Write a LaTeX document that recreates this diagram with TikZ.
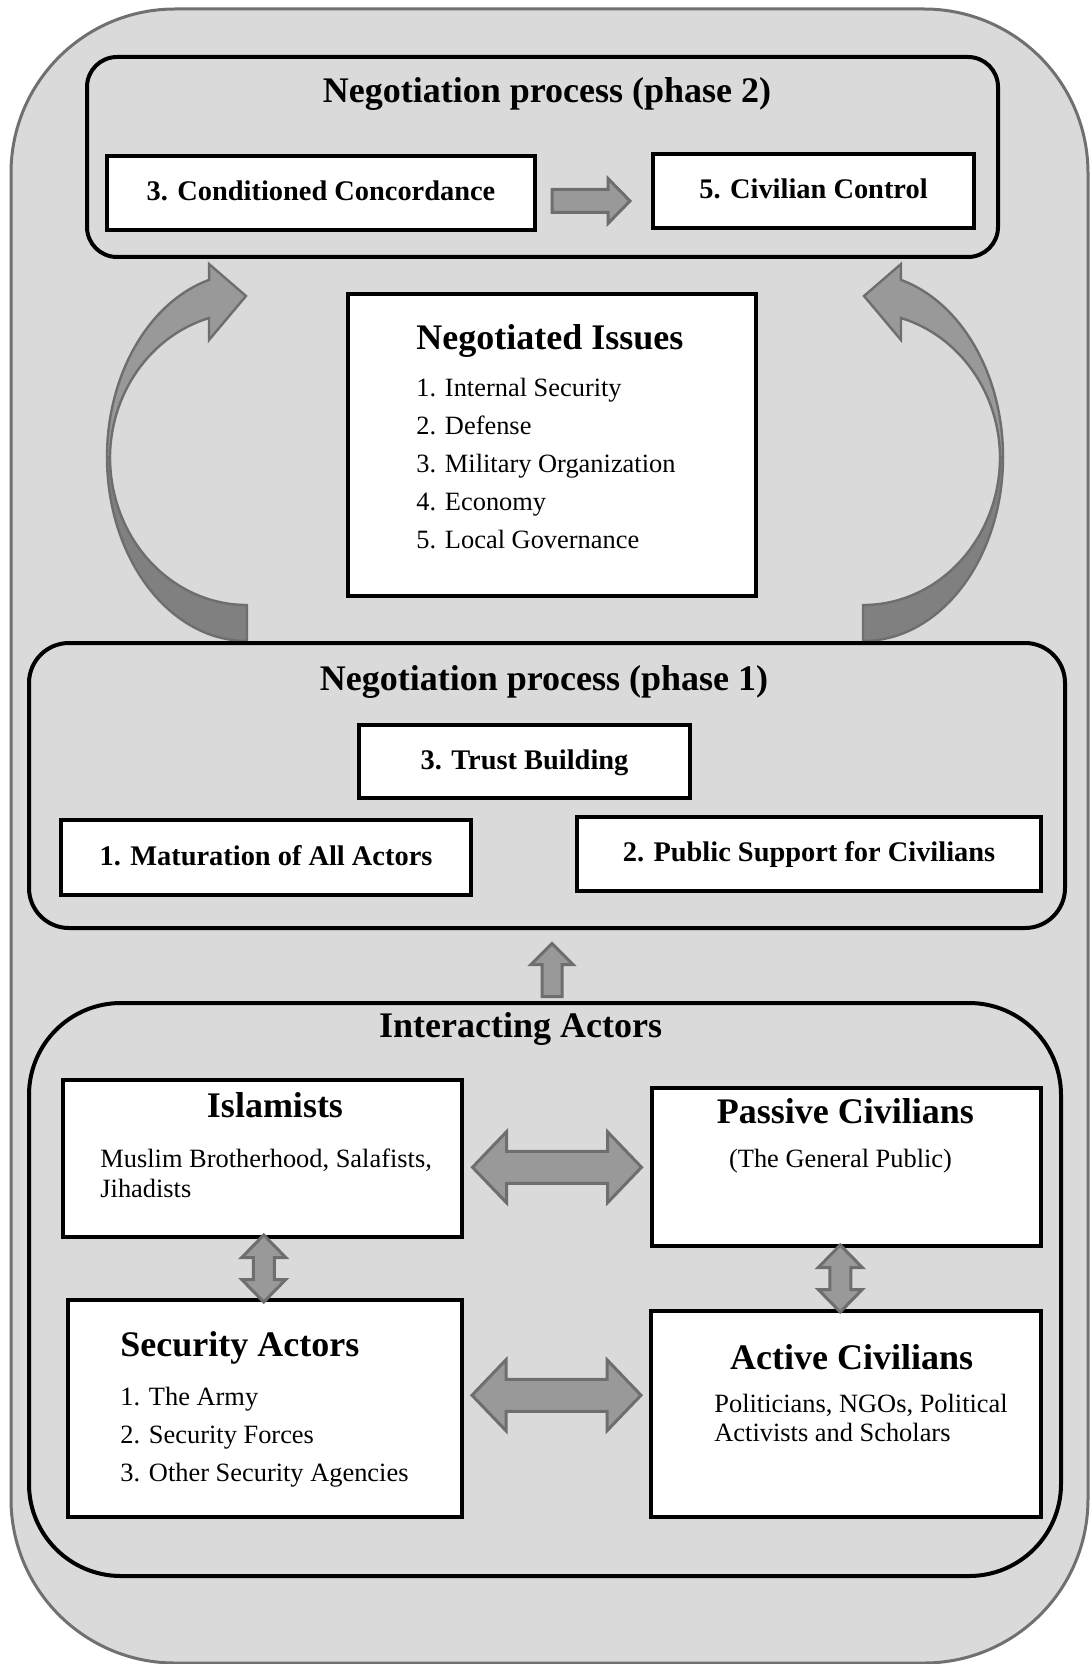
\documentclass[tikz,border=0pt]{standalone}
\usepackage{fontspec}
\setmainfont{Liberation Serif}
\usetikzlibrary{calc,positioning}
\definecolor{panelgray}{RGB}{218,218,218}
\definecolor{rimgray}{RGB}{112,112,112}
\definecolor{arrowedge}{RGB}{110,110,110}
\definecolor{arrowfill}{RGB}{153,153,153}
\definecolor{arrowdark}{RGB}{128,128,128}
\newcommand{\hdfont}{\fontsize{18}{21}\selectfont\bfseries}
\newcommand{\lblfont}{\fontsize{14.2}{17}\selectfont\bfseries}
\newcommand{\txtfont}{\fontsize{13.2}{15}\selectfont}
\tikzset{
  outerpanel/.style={draw=rimgray, fill=panelgray, line width=1.5pt, rounded corners=82pt},
  phasebox/.style={draw=black, line width=2pt, rounded corners=15pt, inner sep=0pt},
  wbox/.style={draw=black, fill=white, line width=2pt, inner sep=0pt},
  lbox/.style={wbox, font=\lblfont, text height=9pt, text depth=1.5pt},
  headtxt/.style={font=\hdfont, inner sep=0pt, anchor=base},
  bodytxt/.style={font=\txtfont, inner sep=0pt, anchor=base west},
  fatarrow/.style={draw=arrowedge, fill=arrowfill, line width=1.5pt, line join=miter},
  bendhigh/.style={draw=arrowedge, fill=arrowfill, line width=1.2pt, line join=miter},
  bendlow/.style={draw=arrowedge, fill=arrowdark, line width=1.2pt, line join=miter},
  % half length / head length / head half width / shaft half width
  pics/dblarrow/.style args={#1/#2/#3/#4}{code={
    \draw[fatarrow] (-#1,0) -- ({-#1+#2},-#3) -- ({-#1+#2},-#4) -- ({#1-#2},-#4)
      -- ({#1-#2},-#3) -- (#1,0) -- ({#1-#2},#3) -- ({#1-#2},#4) -- ({-#1+#2},#4)
      -- ({-#1+#2},#3) -- cycle;
  }},
  pics/onearrow/.style args={#1/#2/#3/#4}{code={
    \draw[fatarrow] (-#1,-#4) -- ({#1-#2},-#4) -- ({#1-#2},-#3) -- (#1,0)
      -- ({#1-#2},#3) -- ({#1-#2},#4) -- (-#1,#4) -- cycle;
  }},
  pics/bendarrow/.style={code={
    \draw[bendlow] (-140,0) arc[start angle=180, end angle=270, x radius=70pt, y radius=92pt]
      -- (0,148) arc[start angle=270, end angle=180, x radius=68.5pt, y radius=74pt] -- cycle;
    \draw[bendhigh] (-140,0) arc[start angle=180, end angle=105.7, x radius=70pt, y radius=92pt]
      -- (-38,-193) -- (-1,-161) -- (-38,-117) -- (-38,-139)
      arc[start angle=106.1, end angle=180, x radius=68.5pt, y radius=73pt] -- cycle;
  }},
}

\begin{document}
\begin{tikzpicture}[x=0.5pt, y=-0.5pt]
  \useasboundingbox (0,0) rectangle (1090,1664);
  \draw[outerpanel] (11,9) rectangle (1088,1663);

  % phase 2
  \node[phasebox, minimum width=455.5pt, minimum height=100pt] (phase2) at (542.5,157) {};
  \node[headtxt] (phase2title) at (547,103) {Negotiation process (phase 2)};
  \node[lbox, minimum width=214pt, minimum height=37pt] (cond) at (321,193) {3. Conditioned Concordance};
  \node[lbox, minimum width=160.5pt, minimum height=37pt] (civ) at (813.5,191) {5. Civilian Control};
  \pic at ($(cond.east)!0.5!(civ.west)+(-3,9)$) {onearrow=39/22/22.5/11.5};

  % issues
  \node[wbox, minimum width=204pt, minimum height=151pt] (issues) at (552,445) {};
  \node[headtxt, anchor=base west] (issuestitle) at (416,349) {Negotiated Issues};
  \foreach \issue [count=\i] in {Internal Security, Defense, Military Organization, Economy, Local Governance}
    \node[bodytxt] (issue\i) at (416,358+38*\i) {\i. \issue};

  \pic at (247,457) {bendarrow};
  \pic[xscale=-1] at (863,457) {bendarrow};

  % phase 1
  \node[phasebox, rounded corners=20pt, minimum width=518pt, minimum height=142.5pt] (phase1) at (547,785.5) {};
  \node[headtxt] (phase1title) at (544,690) {Negotiation process (phase 1)};
  \node[lbox, minimum width=165.5pt, minimum height=36.5pt] (trust) at (524.5,761.5) {3. Trust Building};
  \node[lbox, minimum width=205pt, minimum height=37.5pt] (matur) at (266,857.5) {1. Maturation of All Actors};
  \node[lbox, minimum width=232pt, minimum height=37pt] (public) at (809,854) {2. Public Support for Civilians};

  % actors
  \node[phasebox, rounded corners=46pt, minimum width=516pt, minimum height=286.5pt] (actors) at (545,1289.5) {};
  \node[headtxt] (actorstitle) at (520.6,1037) {Interacting Actors};
  \pic[rotate=90] at ($(phase1.south)!0.5!(actors.north)+(6,4.5)$) {onearrow=26.5/21/21/10};

  \node[wbox, minimum width=199.5pt, minimum height=78.5pt] (islam) at (262.5,1158.5) {};
  \node[headtxt] (islamtitle) at (275,1117) {Islamists};
  \node[bodytxt] (islam1) at (100,1167) {Muslim Brotherhood, Salafists,};
  \node[bodytxt] (islam2) at (100,1197) {Jihadists};

  \node[wbox, minimum width=194.5pt, minimum height=79pt] (passive) at (846.5,1167) {};
  \node[headtxt] (passivetitle) at (845.3,1123) {Passive Civilians};
  \node[bodytxt, anchor=base] (passive1) at (840.5,1167) {(The General Public)};

  \node[wbox, minimum width=197pt, minimum height=108.5pt] (secur) at (265,1408.5) {};
  \node[headtxt, anchor=base west] (securtitle) at (120,1356) {Security Actors};
  \foreach \agent [count=\i] in {The Army, Security Forces, Other Security Agencies}
    \node[bodytxt] (secur\i) at (120,1367+38*\i) {\i. \agent};

  \node[wbox, minimum width=195pt, minimum height=103pt] (active) at (846,1414) {};
  \node[headtxt] (activetitle) at (851.7,1369) {Active Civilians};
  \node[bodytxt] (active1) at (714,1412) {Politicians, NGOs, Political};
  \node[bodytxt] (active2) at (714,1441) {Activists and Scholars};

  \pic at ($(islam.east)!0.5!(passive.west)+(0,4.5)$) {dblarrow=84.5/34/35.5/16};
  \pic at ($(secur.east)!0.5!(active.west)+(0,-16)$) {dblarrow=84.5/34/35.5/16};
  \pic[rotate=90] at ($(islam.south)!0.5!(secur.north)$) {dblarrow=33.5/22.5/22/10.5};
  \pic[rotate=90] at ($(passive.south)!0.5!(active.north)+(-6,0)$) {dblarrow=33.5/22.5/22/10.5};
\end{tikzpicture}
\end{document}
